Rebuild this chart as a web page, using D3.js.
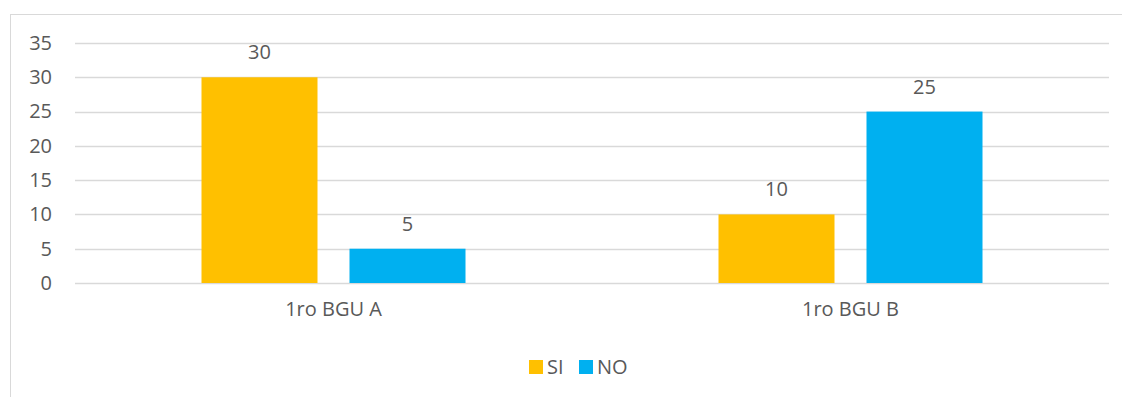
<!DOCTYPE html>
<html>
<head>
<meta charset="utf-8">
<script src="https://cdn.jsdelivr.net/npm/d3@7"></script>
<style>
  html, body { margin: 0; padding: 0; background: #fff; }
  svg { display: block; }
  text { font-family: "Open Sans", "Liberation Sans", sans-serif; fill: #595959; }
</style>
</head>
<body>
<svg id="chart" width="1122" height="397"></svg>
<script>
// Chart data
const categories = ["1ro BGU A", "1ro BGU B"];
const seriesNames = ["SI", "NO"];
const siValues = [30, 10];
const noValues = [5, 25];
const yTicks = [0, 5, 10, 15, 20, 25, 30, 35];
const colors = { SI: "#FFC000", NO: "#00B0F0" };

const svg = d3.select("#chart");
const W = 1122, H = 397;

// Outer chart border
svg.append("rect")
  .attr("x", 10.5).attr("y", 14.5)
  .attr("width", W + 10).attr("height", H + 10)
  .attr("fill", "#fff").attr("stroke", "#d9d9d9").attr("stroke-width", 1);

const plot = { left: 75, right: 1109, top: 43, bottom: 283 };

const y = d3.scaleLinear().domain([0, 35]).range([plot.bottom, plot.top]);
const x0 = d3.scaleBand().domain(categories).range([plot.left, plot.right]).paddingInner(0).paddingOuter(0);

const barW = 116, gap = 32;
const x1 = d3.scaleOrdinal().domain(seriesNames).range([-(gap / 2 + barW), gap / 2]);

// Gridlines
const grid = svg.append("g");
grid.selectAll("line").data(yTicks).join("line")
  .attr("x1", plot.left).attr("x2", plot.right)
  .attr("y1", d => Math.round(y(d)) + 0.5).attr("y2", d => Math.round(y(d)) + 0.5)
  .attr("stroke", "#d9d9d9").attr("stroke-width", 1.3);

// Y axis labels
const yAxis = d3.axisLeft(y).tickValues(yTicks).tickSize(0).tickPadding(0);
const yg = svg.append("g").attr("transform", `translate(52,0)`).call(yAxis);
yg.select(".domain").remove();
yg.selectAll("text").attr("font-size", 20).style("fill", "#595959")
  .attr("font-family", "\"Open Sans\", sans-serif");

// Bars
const rows = categories.map((c, i) => ({ cat: c, SI: siValues[i], NO: noValues[i] }));
const groups = svg.append("g").selectAll("g").data(rows).join("g")
  .attr("transform", d => `translate(${x0(d.cat) + x0.bandwidth() / 2},0)`);

groups.selectAll("rect").data(d => seriesNames.map(s => ({ s, v: d[s] }))).join("rect")
  .attr("x", d => x1(d.s))
  .attr("y", d => y(d.v))
  .attr("width", barW)
  .attr("height", d => y(0) - y(d.v))
  .attr("fill", d => colors[d.s]);

// Value labels
groups.selectAll("text.val").data(d => seriesNames.map(s => ({ s, v: d[s] }))).join("text")
  .attr("class", "val")
  .attr("x", d => x1(d.s) + barW / 2)
  .attr("y", d => y(d.v) - 18)
  .attr("text-anchor", "middle")
  .attr("font-size", 20)
  .text(d => d.v);

// X axis labels
const xAxis = d3.axisBottom(x0).tickSize(0).tickPadding(0);
const xg = svg.append("g").attr("transform", `translate(0,${plot.bottom + 19})`).call(xAxis);
xg.select(".domain").remove();
xg.selectAll("text").attr("font-size", 20).style("fill", "#595959")
  .attr("font-family", "\"Open Sans\", sans-serif");

// Legend
const legend = svg.append("g");
const legendItems = [{ s: "SI", x: 529 }, { s: "NO", x: 579 }];
legendItems.forEach(it => {
  legend.append("rect").attr("x", it.x).attr("y", 360).attr("width", 14).attr("height", 14)
    .attr("fill", colors[it.s]);
  legend.append("text").attr("x", it.x + 18).attr("y", 367).attr("dy", "0.35em")
    .attr("font-size", 20).text(it.s);
});
</script>
</body>
</html>
